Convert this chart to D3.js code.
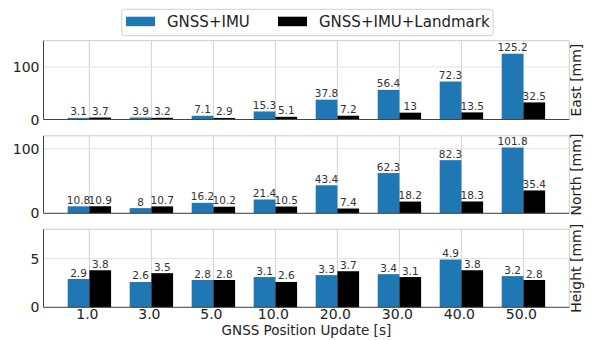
<!DOCTYPE html>
<html>
<head>
<meta charset="utf-8">
<script src="https://cdn.jsdelivr.net/npm/d3@7"></script>
<style>
  html, body { margin: 0; padding: 0; background: #fff; }
  svg { display: block; font-family: "DejaVu Sans", sans-serif; }
</style>
</head>
<body>
<svg id="chart" width="590" height="340"></svg>
<script>
// GNSS position update intervals (s)
const categories = ["1.0", "3.0", "5.0", "10.0", "20.0", "30.0", "40.0", "50.0"];
const seriesNames = ["GNSS+IMU", "GNSS+IMU+Landmark"];
const seriesColors = ["#1f77b4", "#000000"];

// Errors per axis, in mm
const eastImu = [3.1, 3.9, 7.1, 15.3, 37.8, 56.4, 72.3, 125.2];
const eastLandmark = [3.7, 3.2, 2.9, 5.1, 7.2, 13, 13.5, 32.5];
const northImu = [10.8, 8, 16.2, 21.4, 43.4, 62.3, 82.3, 101.8];
const northLandmark = [10.9, 10.7, 10.2, 10.5, 7.4, 18.2, 18.3, 35.4];
const heightImu = [2.9, 2.6, 2.8, 3.1, 3.3, 3.4, 4.9, 3.2];
const heightLandmark = [3.8, 3.5, 2.8, 2.6, 3.7, 3.1, 3.8, 2.8];

const eastTicks = [0, 100];
const northTicks = [0, 100];
const heightTicks = [0, 5];

const panels = [
  { label: "East [mm]", series: [eastImu, eastLandmark], max: 150, ticks: eastTicks, top: 40.7, bottom: 119.5 },
  { label: "North [mm]", series: [northImu, northLandmark], max: 120, ticks: northTicks, top: 135.8, bottom: 213.3 },
  { label: "Height [mm]", series: [heightImu, heightLandmark], max: 8, ticks: heightTicks, top: 229.3, bottom: 307.3 }
];

const svg = d3.select("#chart");
const left = 43.5, right = 569.3;
const pad = 0.74, barW = 0.35;

const x = d3.scaleLinear()
  .domain([-pad, categories.length - 1 + pad])
  .range([left, right]);

panels.forEach((p, pi) => {
  const y = d3.scaleLinear().domain([0, p.max]).range([p.bottom, p.top]);
  const g = svg.append("g");

  // grid
  g.selectAll("line.vg").data(categories).join("line")
    .attr("x1", (d, i) => x(i)).attr("x2", (d, i) => x(i))
    .attr("y1", p.top).attr("y2", p.bottom)
    .attr("stroke", "#d2d2d2").attr("stroke-width", 1);
  g.selectAll("line.hg").data(p.ticks).join("line")
    .attr("x1", left).attr("x2", right)
    .attr("y1", d => y(d)).attr("y2", d => y(d))
    .attr("stroke", "#e4e4e4").attr("stroke-width", 1);

  // bars and value labels
  p.series.forEach((vals, si) => {
    const x0 = i => x(i + (si === 0 ? -barW : 0));
    g.selectAll("rect.s" + si).data(vals).join("rect")
      .attr("x", (d, i) => x0(i))
      .attr("width", x(barW) - x(0))
      .attr("y", d => y(d))
      .attr("height", d => p.bottom - y(d))
      .attr("fill", seriesColors[si]);
    g.selectAll("text.s" + si).data(vals).join("text")
      .attr("x", (d, i) => x0(i) + (x(barW) - x(0)) / 2)
      .attr("y", d => y(d) - 2.5)
      .attr("text-anchor", "middle")
      .attr("font-size", 10.5)
      .attr("fill", "#333")
      .text(d => String(d));
  });

  // frame
  g.append("line").attr("x1", left).attr("x2", right).attr("y1", p.top).attr("y2", p.top)
    .attr("stroke", "#cccccc");
  g.append("line").attr("x1", right).attr("x2", right).attr("y1", p.top).attr("y2", p.bottom)
    .attr("stroke", "#cccccc");
  g.append("line").attr("x1", left).attr("x2", left).attr("y1", p.top).attr("y2", p.bottom)
    .attr("stroke", "#444");
  g.append("line").attr("x1", left).attr("x2", right).attr("y1", p.bottom).attr("y2", p.bottom)
    .attr("stroke", "#444");

  // y tick labels
  g.selectAll("text.yt").data(p.ticks).join("text")
    .attr("x", left - 4).attr("y", d => y(d))
    .attr("dy", "0.36em")
    .attr("text-anchor", "end")
    .attr("font-size", 14)
    .attr("fill", "#222")
    .text(d => d);

  // right-side axis label
  const cy = (p.top + p.bottom) / 2;
  g.append("text")
    .attr("transform", `translate(581,${cy}) rotate(-90)`)
    .attr("text-anchor", "middle")
    .attr("font-size", 14)
    .attr("fill", "#222")
    .text(p.label);

  // x tick labels on bottom panel
  if (pi === panels.length - 1) {
    g.selectAll("text.xt").data(categories).join("text")
      .attr("x", (d, i) => x(i) - 2).attr("y", p.bottom + 12)
      .attr("text-anchor", "middle")
      .attr("font-size", 14)
      .attr("fill", "#222")
      .text(d => d);
  }
});

// x axis title
svg.append("text")
  .attr("x", (left + right) / 2).attr("y", 335)
  .attr("text-anchor", "middle")
  .attr("font-size", 13.5)
  .attr("fill", "#222")
  .text("GNSS Position Update [s]");

// legend
const lg = svg.append("g");
lg.append("rect")
  .attr("x", 121.7).attr("y", 9.3).attr("width", 371.3).attr("height", 26.4)
  .attr("rx", 3).attr("fill", "#fff").attr("stroke", "#d0d0d0");
const legendX = [126, 278];
seriesNames.forEach((name, i) => {
  lg.append("rect")
    .attr("x", legendX[i]).attr("y", 16.7).attr("width", 29).attr("height", 9.5)
    .attr("fill", seriesColors[i]);
  lg.append("text")
    .attr("x", legendX[i] + 41).attr("y", 21.5).attr("dy", "0.36em")
    .attr("font-size", 15)
    .attr("fill", "#222")
    .text(name);
});
</script>
</body>
</html>
